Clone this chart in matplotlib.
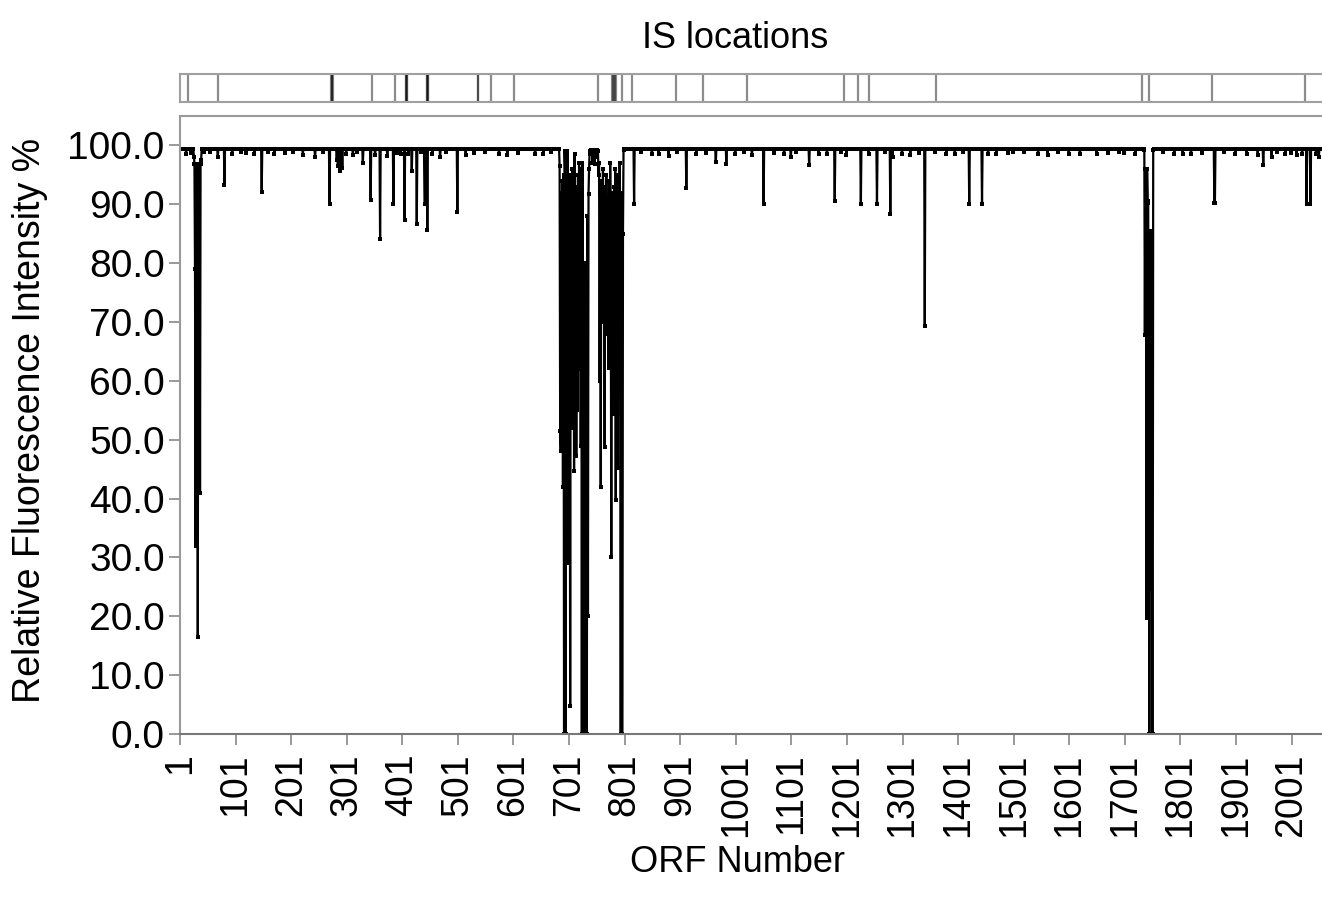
import numpy as np
import matplotlib
matplotlib.use('Agg')
import matplotlib.pyplot as plt

plt.rcParams['font.family'] = ['Liberation Sans', 'DejaVu Sans']

# ORF axis and the usual level of the trace
last_orf = 2055
baseline = 99.4

# isolated dips (ORF number, relative intensity %)
dip_orf = [12, 45, 69, 81, 120, 148, 171, 205, 244, 270, 283, 285, 288, 290, 293,
           312, 330, 344, 361, 374, 385, 398, 405, 418, 427, 441, 442, 446, 469,
           500, 530, 590, 640, 668, 818, 850, 880, 912, 965, 984, 1000, 1051,
           1088, 1100, 1133, 1150, 1179, 1200, 1226, 1255, 1279, 1283, 1300,
           1341, 1395, 1421, 1444, 1470, 1500, 1562, 1600, 1650, 1700, 1790,
           1820, 1862, 1863, 1900, 1950, 1965, 1990, 2010, 2028, 2035, 2045, 2050]
dip_val = [98.6, 98.8, 98.0, 93.2, 98.7, 92.1, 98.5, 98.8, 98.0, 90.1, 97.5, 96.5, 95.6, 97.0, 96.2,
           98.4, 97.0, 90.8, 84.1, 98.2, 90.1, 98.6, 87.4, 95.6, 86.7, 90.1, 90.1, 85.7, 98.0,
           88.7, 98.7, 98.3, 98.5, 98.8, 90.0, 98.6, 98.2, 92.8, 97.1, 96.9, 98.5, 90.0,
           98.6, 98.0, 96.6, 98.6, 90.5, 98.4, 90.1, 90.1, 88.3, 98.0, 98.6,
           69.4, 98.5, 90.1, 90.1, 98.6, 98.8, 98.3, 98.6, 98.5, 98.7, 98.5,
           98.6, 90.2, 90.2, 98.6, 96.6, 98.0, 98.6, 98.3, 90.1, 90.1, 98.5, 98.0]

# small wobbles along the top of the trace
wobble_orf = [20, 55, 95, 110, 135, 160, 190, 222, 258, 300, 320, 352, 392, 412,
              435, 455, 480, 515, 550, 575, 610, 655, 830, 862, 895, 930, 948,
              1015, 1030, 1070, 1110, 1165, 1190, 1240, 1270, 1315, 1330, 1360,
              1380, 1410, 1455, 1490, 1520, 1545, 1580, 1620, 1670, 1690, 1720,
              1770, 1805, 1840, 1880, 1920, 1940, 1975, 2000, 2020]
wobble_val = [98.7, 98.9, 98.5, 98.8, 98.6, 98.9, 98.7, 98.4, 98.8, 98.5, 98.9, 98.3,
              98.7, 98.5, 98.8, 98.6, 98.9, 98.4, 98.8, 98.6, 98.7, 98.5, 98.8,
              98.6, 98.9, 98.5, 98.7, 98.8, 98.4, 98.7, 98.9, 98.5, 98.8, 98.6,
              98.9, 98.4, 98.7, 98.8, 98.6, 98.9, 98.5, 98.7, 98.8, 98.6, 98.9,
              98.5, 98.7, 98.8, 98.6, 98.9, 98.5, 98.7, 98.8, 98.6, 98.4, 98.8,
              98.7, 98.5]

# first deep dip, ORF 26-39
dipA_start = 26
dipA_val = [98.0, 96.8, 79.0, 32.0, 96.5, 96.8, 96.5, 16.5, 96.5, 96.8, 96.5, 41.0, 96.8, 97.5]

# dense region, ORF 684-752
dipB_start = 684
dipB_val = [96.5, 51.5, 48.0, 92.0, 77.0, 94.0, 42.0, 95.0, 0.0, 99.0,
            94.0, 0.0, 98.0, 42.0, 99.0, 29.0, 93.0, 57.0, 95.0, 4.8,
            94.0, 79.0, 52.0, 96.0, 60.0, 92.0, 44.6, 98.6, 66.0, 88.0,
            47.3, 93.0, 55.0, 95.0, 70.0, 97.0, 62.0, 90.0, 49.0, 96.0,
            0.0, 97.0, 0.0, 5.0, 0.0, 80.0, 0.0, 20.0, 75.0, 0.0,
            88.0, 20.0, 91.7, 96.0, 99.0, 98.5, 99.2, 98.8, 99.0, 97.0,
            99.2, 98.5, 99.0, 96.8, 99.3, 98.7, 99.0, 98.0, 99.2]

# dense region, ORF 753-799
dipC_start = 753
dipC_val = [99.0, 95.0, 97.0, 60.0, 92.0, 42.0, 94.0, 88.0, 70.0, 96.0,
            80.0, 91.0, 48.8, 93.0, 76.0, 95.0, 85.0, 68.0, 90.0, 62.2,
            94.0, 64.0, 97.0, 82.0, 30.0, 92.0, 72.0, 88.0, 54.4, 93.0,
            78.0, 96.0, 39.8, 90.0, 66.0, 95.0, 45.2, 91.0, 74.0, 97.0,
            86.0, 0.0, 92.0, 0.0, 0.0, 85.0, 99.2]

# dip near ORF 1737-1751
dipD_start = 1736
dipD_val = [99.3, 67.8, 96.0, 95.9, 19.7, 96.0, 90.5, 90.2, 49.8, 0.0,
            85.5, 24.6, 46.2, 85.5, 0.0, 0.0, 99.2]

# IS element positions (ORF); repeated neighbours make the darker bands
is_orf = [15, 70, 273, 274, 275, 276, 346, 388, 407, 408, 409, 410,
          445, 446, 447, 448, 537, 538, 560, 602, 753, 778, 780, 782, 784, 786,
          796, 814, 893, 942, 1021, 1196, 1220, 1241, 1361, 1731, 1744, 1857, 2025]

tick_orf = list(range(1, 2002, 100))
tick_labels = [str(t) for t in tick_orf]
y_ticks = [0, 10, 20, 30, 40, 50, 60, 70, 80, 90, 100]

# build the trace
orf = np.arange(1, last_orf + 1)
values = np.full(len(orf), baseline)
for o, v in zip(wobble_orf + dip_orf, wobble_val + dip_val):
    values[o - 1] = v
for start, vals in [(dipA_start, dipA_val), (dipB_start, dipB_val),
                    (dipC_start, dipC_val), (dipD_start, dipD_val)]:
    values[start - 1:start - 1 + len(vals)] = vals

W, H = 1322, 897
fig = plt.figure(figsize=(W / 100, H / 100), dpi=100)

left = 180 / W
ax = fig.add_axes([left, (H - 734) / H, 1 - left, 618 / H])
strip = fig.add_axes([left, (H - 102.5) / H, 1 - left, 28.5 / H])

xmax = 1 + (W - 180) / 0.5558

# main trace
ax.plot(orf, values, color='black', lw=1.6, marker='s', ms=3, mew=0)
ax.set_xlim(1, xmax)
ax.set_ylim(0, 105)
ax.set_yticks(y_ticks)
ax.set_yticklabels(['%.1f' % y for y in y_ticks], fontsize=28)
ax.set_xticks(tick_orf)
ax.set_xticklabels(tick_labels, rotation=90, fontsize=27)
ax.tick_params(axis='both', direction='out', length=8, width=1.2, color='#888888')
ax.tick_params(axis='y', pad=3)
ax.tick_params(axis='x', pad=6)
for side in ['left', 'top']:
    ax.spines[side].set_color('#9a9a9a')
    ax.spines[side].set_linewidth(1.5)
ax.spines['bottom'].set_color('#777777')
ax.spines['bottom'].set_linewidth(1.5)
ax.spines['right'].set_visible(False)

# IS strip
strip.vlines(is_orf, 0, 1, color='black', alpha=0.45, lw=1.6)
strip.set_xlim(1, xmax)
strip.set_ylim(0, 1)
strip.set_xticks([])
strip.set_yticks([])
for side in ['left', 'top', 'bottom']:
    strip.spines[side].set_color('#a0a0a0')
    strip.spines[side].set_linewidth(1.5)
strip.spines['right'].set_visible(False)

fig.text(735 / W, 1 - 38 / H, 'IS locations', fontsize=26, ha='center', va='center')
fig.text(30 / W, 1 - 420 / H, 'Relative Fluorescence Intensity %', fontsize=27,
         rotation=90, ha='center', va='center')
fig.text(737 / W, 1 - 862 / H, 'ORF Number', fontsize=26, ha='center', va='center')

fig.savefig('out.png', dpi=100)
